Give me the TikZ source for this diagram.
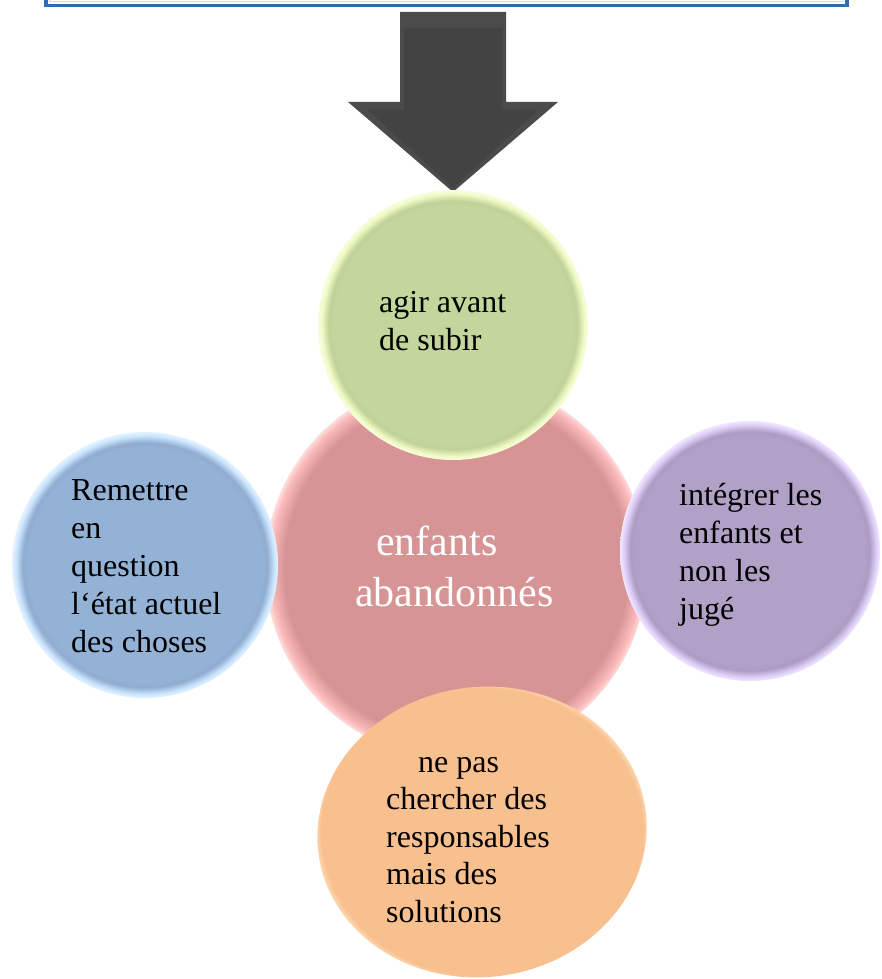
\documentclass[tikz,border=0pt]{standalone}
\usepackage{fontspec}
\setmainfont{Liberation Serif}
\usetikzlibrary{shapes.geometric}

\definecolor{grnMain}{HTML}{C3D69B}
\definecolor{grnRim}{HTML}{F0FAC4}
\definecolor{pnkMain}{HTML}{D69494}
\definecolor{pnkRim}{HTML}{FBBABA}
\definecolor{bluMain}{HTML}{94B2D6}
\definecolor{bluRim}{HTML}{CBE5FF}
\definecolor{purMain}{HTML}{B2A1C7}
\definecolor{purRim}{HTML}{DFD0FA}
\definecolor{orgMain}{HTML}{F8BF8F}
\definecolor{orgRim}{HTML}{FFE4C2}
\definecolor{boxBlue}{HTML}{2F6AB5}
\definecolor{boxLight}{HTML}{BFE3F7}
\definecolor{arrowFace}{HTML}{434343}
\definecolor{arrowBevel}{HTML}{4B4B4B}

\pgfdeclareradialshading{grnball}{\pgfpoint{0bp}{0bp}}{color(0bp)=(grnMain); color(22bp)=(grnMain); color(23bp)=(grnMain!98!black); color(24.3bp)=(grnRim); color(25bp)=(grnRim!50!white); color(50bp)=(white)}
\pgfdeclareradialshading{pnkball}{\pgfpoint{0bp}{0bp}}{color(0bp)=(pnkMain); color(22.5bp)=(pnkMain); color(24.3bp)=(pnkRim); color(25bp)=(pnkRim!50!white); color(50bp)=(white)}
\pgfdeclareradialshading{bluball}{\pgfpoint{0bp}{0bp}}{color(0bp)=(bluMain); color(22bp)=(bluMain); color(23bp)=(bluMain!97!black); color(24.3bp)=(bluRim); color(25bp)=(bluRim!50!white); color(50bp)=(white)}
\pgfdeclareradialshading{purball}{\pgfpoint{0bp}{0bp}}{color(0bp)=(purMain); color(22bp)=(purMain); color(23bp)=(purMain!97!black); color(24.3bp)=(purRim); color(25bp)=(purRim!50!white); color(50bp)=(white)}
\pgfdeclareradialshading{orgball}{\pgfpoint{0bp}{0bp}}{color(0bp)=(orgMain); color(23bp)=(orgMain); color(24.3bp)=(orgRim); color(25bp)=(orgMain!80!white); color(50bp)=(white)}

\tikzset{
  ball/.style={circle, inner sep=0pt, draw=none, shade},
  oval/.style={ellipse, inner sep=0pt, draw=none, shade},
  smalltxt/.style={anchor=base west, inner sep=0pt, align=left, text=black,
    font=\fontsize{32}{38}\selectfont},
  bigtxt/.style={anchor=base west, inner sep=0pt, align=left, text=white,
    font=\fontsize{42}{51}\selectfont},
}

\begin{document}
\begin{tikzpicture}[x=1pt,y=-1pt]
\useasboundingbox (0,0) rectangle (881,979);

% top box (only its bottom edge is visible)
\draw[line width=3.5pt, draw=boxBlue] (46,-40) rectangle (847,5.5);
\draw[line width=1.2pt, draw=boxLight] (49.8,-40) rectangle (843.2,1.8);

% arrow
\fill[arrowBevel] (400,12) -- (506,12) -- (506,102) -- (558,102) -- (453,192)
  -- (348,102) -- (400,102) -- cycle;
\fill[arrowFace] (404,28) -- (502,28) -- (502,110) -- (538,110) -- (453,188)
  -- (368,110) -- (404,110) -- cycle;

% circles
\node[ball, minimum size=382pt, shading=pnkball] (center) at (456,568) {};
\node[ball, minimum size=270pt, shading=grnball] (top) at (453,325) {};
\node[ball, minimum size=266pt, shading=bluball] (left) at (145,565) {};
\node[ball, minimum size=260pt, shading=purball] (right) at (750,551) {};
\node[oval, minimum width=330pt, minimum height=290pt, rotate=8, shading=orgball] (bottom) at (482,832) {};

% texts (anchor = baseline of the last line)
\node[bigtxt] (tcenter) at (355,606) {\hspace*{21pt}enfants\\abandonnés};
\node[smalltxt] (ttop) at (379,350) {agir avant\\de subir};
\node[smalltxt] (tleft) at (71,652) {Remettre\\en\\question\\l‘état actuel\\des choses};
\node[smalltxt] (tright) at (679,619) {intégrer les\\enfants et\\non les\\jugé};
\node[smalltxt, font=\fontsize{32}{37.5}\selectfont] (tbottom) at (386,922) {\hspace*{32pt}ne pas\\chercher des\\responsables\\mais des\\solutions};
\end{tikzpicture}
\end{document}
